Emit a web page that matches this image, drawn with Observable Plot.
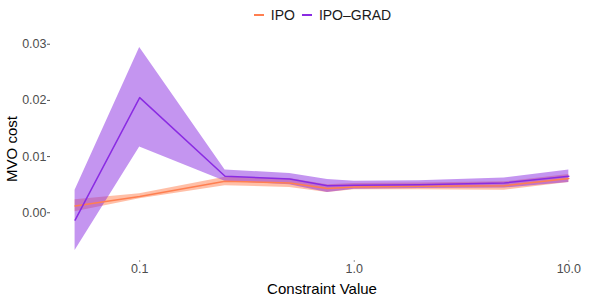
<!DOCTYPE html>
<html>
<head>
<meta charset="utf-8">
<script src="https://cdn.jsdelivr.net/npm/d3@7"></script>
<script src="https://cdn.jsdelivr.net/npm/@observablehq/plot@0.6"></script>
<style>
  body { margin: 0; background: #fff; font-family: "Liberation Sans", Arial, sans-serif; }
  #legend { height: 30px; display: flex; justify-content: center; align-items: center; font-size: 14px; color: #1a1a1a; padding-left: 40px; }
  .key { display: inline-block; width: 10px; height: 2px; margin: 0 7px 0 7px; }
</style>
</head>
<body>
<div id="legend"></div>
<div id="chart"></div>
<script>
const constraintValues = [0.05, 0.1, 0.25, 0.5, 0.75, 1, 2, 5, 10];
const seriesNames = ["IPO", "IPO\u2013GRAD"];
const seriesColors = ["#FF7F50", "#8A2BE2"];

const ipoMean = [0.0012, 0.0029, 0.0056, 0.0053, 0.0043, 0.0046, 0.0047, 0.0048, 0.0061];
const ipoLow  = [0.0002, 0.0025, 0.0048, 0.0045, 0.0036, 0.0041, 0.0041, 0.0040, 0.0054];
const ipoHigh = [0.0023, 0.0034, 0.0063, 0.0061, 0.0050, 0.0052, 0.0053, 0.0055, 0.0068];

const gradMean = [-0.0013, 0.0205, 0.0065, 0.0060, 0.0048, 0.0049, 0.0050, 0.0053, 0.0065];
const gradLow  = [-0.0067, 0.0117, 0.0056, 0.0050, 0.0036, 0.0042, 0.0043, 0.0044, 0.0054];
const gradHigh = [0.0040, 0.0294, 0.0076, 0.0070, 0.0059, 0.0056, 0.0057, 0.0062, 0.0076];

const xTicks = [0.1, 1, 10];
const yTicks = [0, 0.01, 0.02, 0.03];

const rows = [];
[[ipoMean, ipoLow, ipoHigh], [gradMean, gradLow, gradHigh]].forEach(([m, lo, hi], s) => {
  constraintValues.forEach((x, i) => rows.push({series: seriesNames[s], x, mean: m[i], lo: lo[i], hi: hi[i]}));
});

// legend
const legend = document.getElementById("legend");
seriesNames.forEach((n, i) => {
  const k = document.createElement("span");
  k.className = "key"; k.style.background = seriesColors[i];
  legend.appendChild(k);
  const t = document.createElement("span");
  t.textContent = n;
  legend.appendChild(t);
});

const color = {domain: seriesNames, range: seriesColors};

const chart = Plot.plot({
  width: 598,
  height: 269,
  marginLeft: 50,
  marginRight: 5,
  marginTop: 7,
  marginBottom: 39,
  style: {fontFamily: "Liberation Sans, Arial, sans-serif", fontSize: "12.5px", color: "#4d4d4d"},
  x: {type: "log", domain: [0.0384, 13.03]},
  y: {domain: [-0.0085, 0.0312]},
  color,
  marks: [
    Plot.areaY(rows, {x: "x", y1: "lo", y2: "hi", fill: "series", fillOpacity: 0.5, z: "series"}),
    Plot.lineY(rows, {x: "x", y: "mean", stroke: "series", strokeWidth: 1.5, z: "series"}),
    Plot.axisY({ticks: yTicks, tickFormat: d3.format(".2f"), tickSize: 3, tickPadding: 1, stroke: "#555",
      label: null, fill: "#4d4d4d"}),
    Plot.axisX({ticks: xTicks, tickFormat: d3.format(".1f"), tickSize: 2, tickPadding: 2, stroke: "#999",
      label: null, fill: "#4d4d4d"}),
    Plot.text(["Constraint Value"], {frameAnchor: "bottom", dy: 33, fontSize: 15, fill: "#000"}),
    Plot.text(["MVO cost"], {frameAnchor: "left", textAnchor: "middle", dx: -38, rotate: -90, fontSize: 15, fill: "#000"})
  ]
});
document.getElementById("chart").appendChild(chart);
</script>
</body>
</html>
